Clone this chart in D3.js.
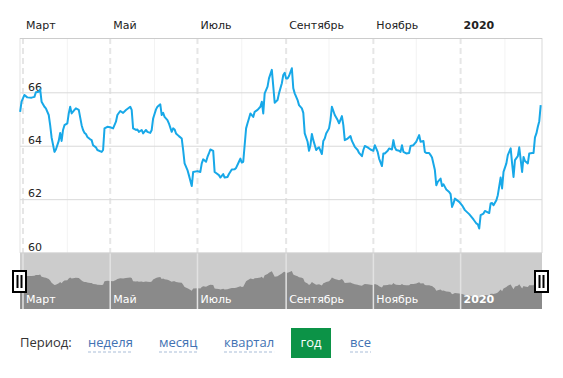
<!DOCTYPE html>
<html><head><meta charset="utf-8">
<script src="https://cdn.jsdelivr.net/npm/d3@7"></script>
<style>body{margin:0;background:#fff}svg{display:block}</style>
</head><body>
<svg id="c" width="563" height="378"></svg>
<script>
const dates = ["2019-02-27","2019-02-28","2019-03-02","2019-03-04","2019-03-07","2019-03-09","2019-03-10","2019-03-12","2019-03-13","2019-03-14","2019-03-16","2019-03-17","2019-03-19","2019-03-20","2019-03-21","2019-03-23","2019-03-24","2019-03-26","2019-03-27","2019-03-28","2019-03-29","2019-03-30",
"2019-04-01","2019-04-02","2019-04-03","2019-04-04","2019-04-06","2019-04-07","2019-04-09","2019-04-11","2019-04-12","2019-04-13","2019-04-14","2019-04-15","2019-04-17","2019-04-18","2019-04-19","2019-04-21","2019-04-22","2019-04-25","2019-04-26","2019-04-27","2019-04-29",
"2019-05-01","2019-05-03","2019-05-05","2019-05-06","2019-05-08","2019-05-10","2019-05-12","2019-05-15","2019-05-16","2019-05-17","2019-05-19","2019-05-20","2019-05-21","2019-05-23","2019-05-24","2019-05-26","2019-05-27","2019-05-29","2019-05-30","2019-05-31",
"2019-06-02","2019-06-03","2019-06-05","2019-06-06","2019-06-07","2019-06-08","2019-06-10","2019-06-11","2019-06-13","2019-06-14","2019-06-15","2019-06-16","2019-06-18","2019-06-20","2019-06-21","2019-06-22","2019-06-24","2019-06-25","2019-06-27","2019-06-28",
"2019-07-01","2019-07-03","2019-07-04","2019-07-05","2019-07-07","2019-07-08","2019-07-09","2019-07-10","2019-07-12","2019-07-13","2019-07-14","2019-07-16","2019-07-17","2019-07-19","2019-07-20","2019-07-22","2019-07-23","2019-07-25","2019-07-27","2019-07-28","2019-07-30","2019-07-31",
"2019-08-01","2019-08-02","2019-08-04","2019-08-05","2019-08-06","2019-08-07","2019-08-09","2019-08-10","2019-08-12","2019-08-14","2019-08-15","2019-08-16","2019-08-17","2019-08-19","2019-08-20","2019-08-22","2019-08-24","2019-08-26","2019-08-27","2019-08-29","2019-08-30","2019-08-31",
"2019-09-01","2019-09-02","2019-09-03","2019-09-05","2019-09-06","2019-09-07","2019-09-09","2019-09-10","2019-09-12","2019-09-13","2019-09-14","2019-09-16","2019-09-17","2019-09-18","2019-09-19","2019-09-20","2019-09-22","2019-09-23","2019-09-24","2019-09-26","2019-09-27","2019-09-28","2019-09-29",
"2019-10-01","2019-10-02","2019-10-03","2019-10-05","2019-10-07","2019-10-08","2019-10-10","2019-10-11","2019-10-12","2019-10-14","2019-10-16","2019-10-17","2019-10-19","2019-10-21","2019-10-22","2019-10-24","2019-10-25","2019-10-26","2019-10-28","2019-10-30",
"2019-11-01","2019-11-02","2019-11-04","2019-11-05","2019-11-07","2019-11-08","2019-11-09","2019-11-11","2019-11-12","2019-11-14","2019-11-15","2019-11-16","2019-11-17","2019-11-19","2019-11-20","2019-11-21","2019-11-22","2019-11-24","2019-11-26","2019-11-27","2019-11-29","2019-11-30",
"2019-12-01","2019-12-03","2019-12-04","2019-12-06","2019-12-07","2019-12-08","2019-12-10","2019-12-11","2019-12-12","2019-12-14","2019-12-15","2019-12-16","2019-12-18","2019-12-19","2019-12-20","2019-12-21","2019-12-22","2019-12-24","2019-12-25","2019-12-26","2019-12-27","2019-12-28","2019-12-31",
"2020-01-02","2020-01-04","2020-01-07","2020-01-09","2020-01-10","2020-01-12","2020-01-13","2020-01-14","2020-01-15","2020-01-17","2020-01-18","2020-01-21","2020-01-22","2020-01-23","2020-01-24","2020-01-26","2020-01-27","2020-01-29","2020-01-30","2020-01-31",
"2020-02-02","2020-02-03","2020-02-05","2020-02-06","2020-02-07","2020-02-08","2020-02-10","2020-02-11","2020-02-13","2020-02-14","2020-02-15","2020-02-17","2020-02-18","2020-02-20","2020-02-21","2020-02-22","2020-02-23","2020-02-24","2020-02-25","2020-02-26"];
const values = [65.27,65.65,65.90,65.81,65.80,65.83,66.00,66.02,66.11,65.65,65.46,65.40,65.15,64.77,64.31,63.77,63.86,64.18,64.48,64.18,64.59,64.77,
64.84,65.21,65.46,65.21,65.34,65.40,65.34,64.77,64.59,64.48,64.44,64.33,64.24,64.21,64.02,63.94,63.84,63.77,63.84,64.65,64.71,
64.69,64.65,64.90,65.15,65.30,65.23,65.34,65.46,65.34,64.65,64.59,64.61,64.52,64.59,64.46,64.59,64.52,64.48,64.59,65.02,
65.36,65.46,65.55,65.15,65.23,65.08,64.96,64.84,64.52,64.65,64.61,64.46,64.36,64.27,63.84,63.34,63.09,62.90,62.49,63.02,
63.05,63.02,63.34,63.49,63.40,63.58,63.71,63.86,63.81,63.02,62.98,62.90,62.81,62.94,62.81,62.83,62.94,63.11,63.12,63.17,63.40,63.52,
63.37,63.40,64.65,64.84,65.02,65.21,65.08,65.27,65.34,65.46,65.65,65.21,65.96,66.21,66.52,66.84,65.61,65.71,65.96,66.34,66.65,66.73,
66.52,66.52,66.61,66.90,66.15,65.96,65.71,65.52,65.40,65.23,64.46,64.15,63.81,64.02,64.44,64.21,63.84,63.90,63.94,63.69,64.18,64.27,64.46,
64.65,64.96,65.46,65.15,64.96,64.84,65.11,64.77,64.21,64.27,64.36,64.18,63.96,63.84,63.73,63.61,63.84,63.99,63.94,63.86,
63.81,64.02,63.77,63.52,63.24,63.71,63.71,63.81,63.90,63.86,64.21,63.94,63.84,63.81,63.77,64.02,63.77,63.71,63.73,63.99,64.02,64.09,
64.15,64.40,64.15,64.18,63.77,63.73,63.73,63.65,63.56,63.09,62.52,62.65,62.77,62.49,62.56,62.46,62.36,62.27,62.19,61.71,61.84,62.02,61.90,
61.77,61.59,61.44,61.31,61.24,61.09,61.06,60.90,61.40,61.46,61.56,61.48,61.84,61.86,61.77,61.96,62.15,62.81,62.40,63.02,
63.34,63.65,63.90,63.34,62.83,63.46,63.61,63.94,63.02,63.58,63.43,63.34,63.71,63.73,63.73,64.31,64.46,64.71,64.92,65.52];

const yTicks = [60, 62, 64, 66];
const majorMonths = ["2019-03-01","2019-05-01","2019-07-01","2019-09-01","2019-11-01","2020-01-01"];
const monthLabels = ["Март","Май","Июль","Сентябрь","Ноябрь","2020"];
const minorMonths = ["2019-04-01","2019-06-01","2019-08-01","2019-10-01","2019-12-01","2020-02-01"];
const periods = ["неделя","месяц","квартал","год","все"];
const activePeriod = "год";

const data = dates.map((d,i)=>({date:new Date(d+"T00:00:00Z"), value:values[i]}));
const svg = d3.select("#c");
const L = 20, R = 542, T = 38, B = 253, NB = 309;
const x = d3.scaleUtc().domain([new Date("2019-02-26T00:00:00Z"), new Date("2020-02-26T00:00:00Z")]).range([18.7, 540.7]);
const y = d3.scaleLinear().domain([60, 66]).range([252.6, 92.3]);
const AX = "'DejaVu Sans', Verdana, sans-serif";

// minor month lines
svg.append("g").selectAll("line").data(minorMonths).join("line")
  .attr("x1", d=>x(new Date(d+"T00:00:00Z"))).attr("x2", d=>x(new Date(d+"T00:00:00Z")))
  .attr("y1", T).attr("y2", B).attr("stroke", "#f3f3f3").attr("stroke-width", 1);
// major dashed month lines
svg.append("g").selectAll("line").data(majorMonths).join("line")
  .attr("x1", d=>x(new Date(d+"T00:00:00Z"))).attr("x2", d=>x(new Date(d+"T00:00:00Z")))
  .attr("y1", T).attr("y2", B).attr("stroke", "#e6e6e6").attr("stroke-width", 2).attr("stroke-dasharray", "6,4");
// plot edges
svg.append("line").attr("x1", L).attr("x2", L).attr("y1", T).attr("y2", B).attr("stroke", "#ececec").attr("stroke-width", 1.5);
svg.append("line").attr("x1", R).attr("x2", R).attr("y1", T).attr("y2", B).attr("stroke", "#e6e6e6").attr("stroke-width", 1.5);
svg.append("line").attr("x1", L).attr("x2", R).attr("y1", T+0.5).attr("y2", T+0.5).attr("stroke", "#cccccc").attr("stroke-width", 1);

// y grid + labels
const yAxis = svg.append("g").attr("transform", `translate(${L},0)`)
  .call(d3.axisRight(y).tickValues(yTicks).tickSize(R-L).tickFormat(d3.format("d")));
yAxis.select(".domain").remove();
yAxis.selectAll(".tick line").attr("stroke", "#d9d9d9");
yAxis.selectAll(".tick text").attr("x", 8).attr("dy", "-0.2em").attr("text-anchor", "start")
  .attr("font-family", AX).attr("font-size", 11).attr("fill", "#222");

// top axis labels
const topAxis = svg.append("g").attr("transform", `translate(0,28.5)`)
  .call(d3.axisTop(x).tickValues(majorMonths.map(d=>new Date(d+"T00:00:00Z"))).tickSize(0).tickFormat((d,i)=>monthLabels[i]));
topAxis.select(".domain").remove();
topAxis.selectAll(".tick text").attr("x", 2.5).attr("y", 0).attr("dy", 0).attr("text-anchor", "start")
  .attr("font-family", AX).attr("font-size", 11).attr("fill", "#222")
  .attr("font-weight", (d,i)=>monthLabels[i]==="2020" ? "bold" : "normal");

// navigator
svg.append("rect").attr("x", L).attr("y", B).attr("width", R-L).attr("height", NB-B).attr("fill", "#cccccc");
const ny = d3.scaleLinear().domain(d3.extent(values)).range([298, 271]);
svg.append("defs").append("clipPath").attr("id", "nclip").append("rect").attr("x", L).attr("y", B).attr("width", R-L).attr("height", NB-B);
svg.append("path").datum(data).attr("clip-path", "url(#nclip)")
  .attr("d", d3.area().x(d=>x(d.date)).y0(NB).y1(d=>ny(d.value)).curve(d3.curveLinear)
    (data.concat([{date:new Date("2020-02-28T00:00:00Z"), value:values[values.length-1]}]).slice(0)))
  .attr("fill", "#8a8a8a");
svg.append("path").datum([{date:new Date("2019-02-20T00:00:00Z"), value:values[0]}, data[0]])
  .attr("clip-path", "url(#nclip)")
  .attr("d", d3.area().x(d=>x(d.date)).y0(NB).y1(d=>ny(d.value))).attr("fill", "#8a8a8a");
svg.append("g").selectAll("line").data(majorMonths).join("line")
  .attr("x1", d=>x(new Date(d+"T00:00:00Z"))).attr("x2", d=>x(new Date(d+"T00:00:00Z")))
  .attr("y1", B).attr("y2", NB).attr("stroke", "#e2e2e2").attr("stroke-width", 1.5);
svg.append("line").attr("x1", L).attr("x2", R).attr("y1", B).attr("y2", B).attr("stroke", "#d0d0d0");
const navAxis = svg.append("g").attr("transform", `translate(0,303)`)
  .call(d3.axisBottom(x).tickValues(majorMonths.map(d=>new Date(d+"T00:00:00Z"))).tickSize(0).tickFormat((d,i)=>monthLabels[i]));
navAxis.select(".domain").remove();
navAxis.selectAll(".tick text").attr("x", 2.5).attr("y", 0).attr("dy", 0).attr("text-anchor", "start")
  .attr("font-family", AX).attr("font-size", 11).attr("fill", "#ffffff")
  .attr("font-weight", (d,i)=>monthLabels[i]==="2020" ? "bold" : "normal");

// handles
[L, R].forEach(hx=>{
  const g = svg.append("g").attr("transform", `translate(${hx - 7},${271})`);
  g.append("rect").attr("x", 0).attr("y", 0).attr("width", 13).attr("height", 21)
    .attr("fill", "#fff").attr("stroke", "#000").attr("stroke-width", 2);
  g.append("rect").attr("x", 3.5).attr("y", 4).attr("width", 2).attr("height", 13).attr("fill", "#000");
  g.append("rect").attr("x", 7.5).attr("y", 4).attr("width", 2).attr("height", 13).attr("fill", "#000");
});

// main line
svg.append("path").datum(data)
  .attr("d", d3.line().x(d=>x(d.date)).y(d=>y(d.value)))
  .attr("fill", "none").attr("stroke", "#17a8e8").attr("stroke-width", 2).attr("stroke-linejoin", "round");

// period selector
const PF = "'Open Sans', 'Noto Sans', sans-serif";
svg.append("text").attr("x", 20).attr("y", 347).text("Период:")
  .attr("font-family", PF).attr("font-size", 13).attr("fill", "#333");
const px = [88, 159, 224, 291, 350];
periods.forEach((p,i)=>{
  if (p === activePeriod) {
    svg.append("rect").attr("x", px[i]).attr("y", 328).attr("width", 40).attr("height", 30).attr("fill", "#0c9347");
    svg.append("text").attr("x", px[i]+20).attr("y", 347).attr("text-anchor", "middle").text(p)
      .attr("font-family", PF).attr("font-size", 13).attr("fill", "#fff");
  } else {
    const t = svg.append("text").attr("x", px[i]).attr("y", 347).text(p)
      .attr("font-family", PF).attr("font-size", 13).attr("fill", "#4272b3");
    const w = t.node().getComputedTextLength();
    svg.append("line").attr("x1", px[i]).attr("x2", px[i]+w).attr("y1", 352).attr("y2", 352)
      .attr("stroke", "#a9bdd8").attr("stroke-width", 1).attr("stroke-dasharray", "3,2");
  }
});
</script>
</body></html>
